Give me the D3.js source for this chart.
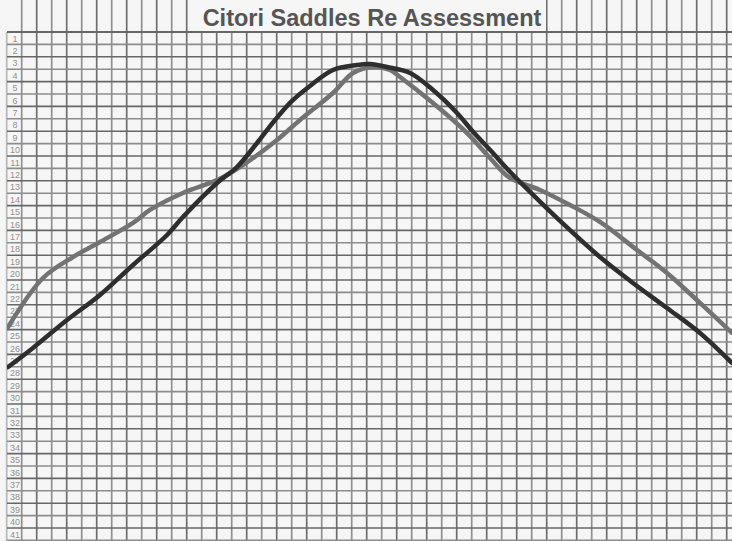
<!DOCTYPE html>
<html>
<head>
<meta charset="utf-8">
<script src="https://cdn.jsdelivr.net/npm/d3@7"></script>
<style>
  html, body { margin: 0; padding: 0; background: #f4f4f4; }
  svg { display: block; }
</style>
</head>
<body>
<div id="chart"></div>
<script>
// row numbers printed down the left edge
const rowLabels = d3.range(1, 42)

// traced curves, [column, row]
const darkCurve = [
  [-0.91, 27.52], [0.75, 25.98], [3.02, 23.73], [5.22, 21.71], [7.42, 19.29],
  [9.69, 16.87], [10.75, 15.42], [13.02, 12.68], [14.35, 11.39], [15.69, 9.45],
  [16.89, 7.60], [18.02, 6.06], [19.22, 4.85], [20.75, 3.56],
  [22.35, 3.16], [23.22, 3.08], [24.35, 3.32], [25.89, 3.81], [27.42, 5.18],
  [29.02, 7.03], [30.09, 8.55], [31.23, 10.02], [32.57, 11.79], [33.89, 13.40],
  [35.89, 15.74], [38.55, 18.65], [40.75, 20.74], [43.02, 22.76], [45.22, 24.77],
  [47.35, 27.19]
]
const grayCurve = [
  [-0.91, 24.29], [1.42, 20.34], [3.42, 18.65], [5.22, 17.44], [7.42, 15.90],
  [8.55, 14.85], [10.75, 13.48], [13.02, 12.44], [14.55, 11.39], [17.02, 9.21],
  [18.55, 7.60], [20.75, 5.42], [22.09, 3.81], [23.42, 3.32], [24.55, 3.56],
  [25.22, 4.13], [27.42, 6.23], [29.69, 8.65], [31.22, 10.66], [32.55, 12.27],
  [34.55, 13.24], [36.55, 14.45], [38.55, 15.82], [41.02, 18.08], [43.02, 19.94],
  [45.22, 22.35], [47.35, 24.77]
]

const subtitle = "Citori Saddles Re Assessment"

const W = 732, H = 541
const gridTop = 32, gridLeft = 7

const x = d3.scaleLinear().domain([0, 47]).range([21.7, 726.7])
const y = d3.scaleLinear().domain([0.5, 41.5]).range([gridTop, 540.4])

const svg = d3.select("#chart").append("svg")
    .attr("width", W).attr("height", H)

svg.append("rect").attr("width", W).attr("height", H).attr("fill", "#f6f6f6")

// vertical grid lines, they run up through the header too
const cols = d3.range(-1, 48)
svg.append("g").selectAll("line").data(cols).enter().append("line")
    .attr("x1", d => x(d)).attr("x2", d => x(d))
    .attr("y1", d => d < 0 ? gridTop : 0).attr("y2", H)
    .attr("stroke", (d, i) => d < 0 ? "#b8b8b8" : i % 2 ? "#909090" : "#6e6e6e")
    .attr("stroke-width", 1.7)

// horizontal grid lines
const rows = d3.range(0.5, 42, 1)
svg.append("g").selectAll("line").data(rows).enter().append("line")
    .attr("x1", gridLeft).attr("x2", W)
    .attr("y1", d => y(d)).attr("y2", d => y(d))
    .attr("stroke", (d, i) => i % 2 ? "#8c8c8c" : "#676767")
    .attr("stroke-width", d => d === 0.5 ? 2.2 : 1.6)

// header box
svg.append("rect")
    .attr("x", 199).attr("y", 0).attr("width", 347).attr("height", gridTop - 1)
    .attr("fill", "#f6f6f6")

svg.append("text")
    .attr("x", 372).attr("y", 26)
    .attr("text-anchor", "middle")
    .style("font-family", "'Liberation Sans', Arial, sans-serif")
    .style("font-weight", "bold")
    .style("font-size", "23.5px")
    .attr("fill", "#555")
    .text(subtitle)

// row numbers
const axis = svg.append("g")
    .attr("transform", "translate(15,0)")
    .call(d3.axisLeft(y).tickValues(rowLabels).tickSize(0).tickPadding(0))
axis.select(".domain").remove()
axis.selectAll("text")
    .attr("text-anchor", "middle")
    .style("font-family", "'Liberation Sans', Arial, sans-serif")
    .style("font-size", "9px")
    .attr("fill", "#909090")

// curves
svg.append("clipPath").attr("id", "plot")
  .append("rect").attr("x", gridLeft).attr("y", gridTop).attr("width", W - gridLeft).attr("height", H - gridTop)

const line = d3.line()
    .x(d => x(d[0]))
    .y(d => y(d[1]))
    .curve(d3.curveCatmullRom)

const curves = svg.append("g").attr("clip-path", "url(#plot)")
curves.append("path").datum(grayCurve)
    .attr("d", line)
    .attr("fill", "none")
    .attr("stroke", "#737373")
    .attr("stroke-width", 4.5)
    .attr("stroke-linecap", "round")
curves.append("path").datum(darkCurve)
    .attr("d", line)
    .attr("fill", "none")
    .attr("stroke", "#2e2e2e")
    .attr("stroke-width", 4.5)
    .attr("stroke-linecap", "round")
</script>
</body>
</html>
